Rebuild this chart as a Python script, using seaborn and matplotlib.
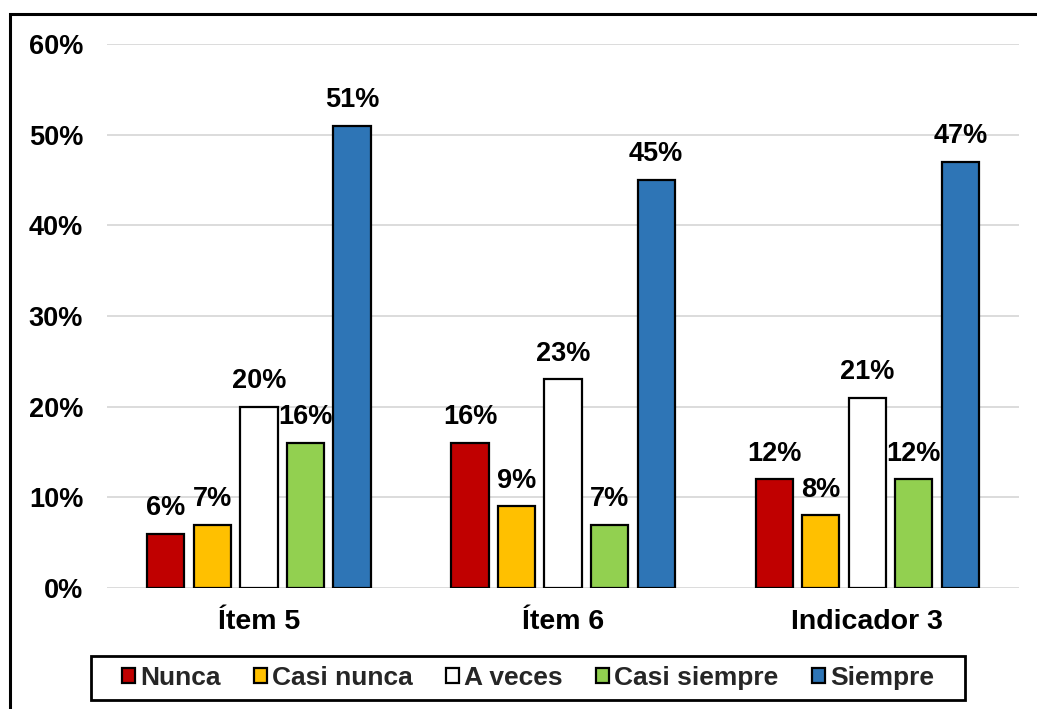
import matplotlib
matplotlib.use("Agg")
import matplotlib.pyplot as plt
import matplotlib.patches as mpatches
import pandas as pd
import seaborn as sns
from matplotlib.ticker import PercentFormatter

# Data (percent)
items = ['Ítem 5', 'Ítem 6', 'Indicador 3']
responses = ['Nunca', 'Casi nunca', 'A veces', 'Casi siempre', 'Siempre']
nunca = [6, 16, 12]
casi_nunca = [7, 9, 8]
a_veces = [20, 23, 21]
casi_siempre = [16, 7, 12]
siempre = [51, 45, 47]
colors = ['#C00000', '#FFC000', '#FFFFFF', '#92D050', '#2E75B6']

series = [nunca, casi_nunca, a_veces, casi_siempre, siempre]
rows = []
for resp, vals in zip(responses, series):
    for item, v in zip(items, vals):
        rows.append({'item': item, 'resp': resp, 'value': v / 100})
df = pd.DataFrame(rows)

sns.set_theme(style='white')
plt.rcParams['font.family'] = ['Liberation Sans', 'DejaVu Sans']
plt.rcParams['font.weight'] = 'bold'

W, H = 1037, 709
fig = plt.figure(figsize=(W / 100, H / 100), dpi=100)
ax = fig.add_axes([0.103, 0.1707, 0.880, 0.7673])

sns.barplot(data=df, x='item', y='value', hue='resp', order=items, hue_order=responses,
            palette=colors, edgecolor='black', linewidth=1.6, width=0.765, gap=0.2,
            saturation=1, ax=ax, legend=False, zorder=3)

for cont in ax.containers:
    ax.bar_label(cont, labels=[f'{v * 100:.0f}%' for v in cont.datavalues],
                 padding=9, fontsize=19.5, fontweight='bold', color='black')

ax.set_ylim(0, 0.6)
ax.set_xlim(-0.5, 2.5)
ax.set_yticks([0, 0.1, 0.2, 0.3, 0.4, 0.5, 0.6])
ax.yaxis.set_major_formatter(PercentFormatter(1.0, decimals=0))
ax.yaxis.grid(True, color='#D9D9D9', linewidth=1.3)
ax.set_axisbelow(True)
for s in ax.spines.values():
    s.set_visible(False)
ax.tick_params(axis='y', length=0, pad=17, labelsize=19.5, labelcolor='black')
ax.tick_params(axis='x', length=0, pad=15, labelsize=20.5, labelcolor='black')
ax.set_xlabel('')
ax.set_ylabel('')

handles = [mpatches.Patch(facecolor=c, edgecolor='black', linewidth=1.6) for c in colors]
leg = fig.legend(handles, responses, loc='center', bbox_to_anchor=(0.509, 0.044), ncol=5,
                 fontsize=19, frameon=False, handlelength=0.5, handleheight=0.5,
                 handletextpad=0.2, columnspacing=1.25, borderpad=0.3)
for t in leg.get_texts():
    t.set_fontweight('bold')

# legend box, wider side padding than matplotlib's borderpad gives
fig.canvas.draw()
bb = leg.get_window_extent(fig.canvas.get_renderer())
fig.add_artist(mpatches.Rectangle(((bb.x0 - 23) / W, (bb.y0 - 2) / H),
                                  (bb.width + 46) / W, (bb.height + 4) / H,
                                  transform=fig.transFigure, fill=False,
                                  edgecolor='black', linewidth=2))

# outer chart border
fig.add_artist(mpatches.Rectangle((10 / W, -0.05), 1.1, 0.05 + 1 - 14 / H,
                                  transform=fig.transFigure, fill=False,
                                  edgecolor='black', linewidth=2.2))

fig.savefig('out.png', dpi=100)
